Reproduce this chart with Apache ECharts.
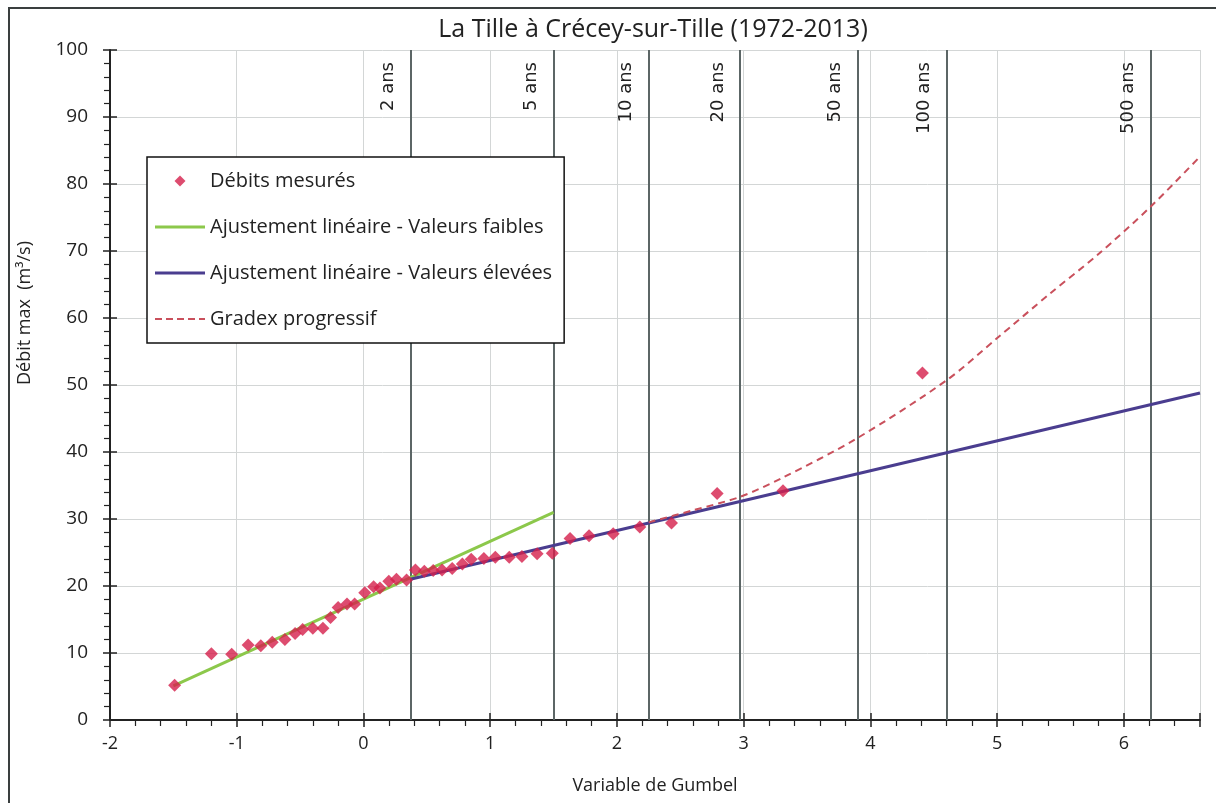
<!DOCTYPE html>
<html>
<head>
<meta charset="utf-8">
<script src="https://cdn.jsdelivr.net/npm/echarts@6/dist/echarts.min.js"></script>
<style>
  html, body { margin: 0; padding: 0; background: #fff; }
  #chart { width: 1216px; height: 803px; position: absolute; left: 0; top: 0; }
  #frame { position: absolute; left: 8px; top: 7px; width: 1220px; height: 800px;
           border-left: 2px solid #3a3f3f; border-top: 2px solid #3a3f3f; pointer-events: none; }
</style>
</head>
<body>
<div id="chart"></div>
<div id="frame"></div>
<script>
// Measured annual maximum flows (Gumbel reduced variable, flow m3/s)
const gumbelX = [-1.49,-1.20,-1.04,-0.91,-0.81,-0.72,-0.62,-0.54,-0.48,-0.40,-0.32,-0.26,-0.20,-0.13,-0.07,0.01,0.08,0.13,0.20,0.26,0.34,0.41,0.48,0.55,0.62,0.70,0.78,0.85,0.95,1.04,1.15,1.25,1.37,1.49,1.63,1.78,1.97,2.18,2.43,2.79,3.31,4.41];
const debitMesure = [5.2,9.9,9.8,11.2,11.1,11.6,12.0,12.9,13.5,13.7,13.7,15.3,16.8,17.3,17.3,19.0,19.9,19.7,20.7,21.0,20.9,22.4,22.2,22.3,22.4,22.6,23.3,24.0,24.1,24.3,24.3,24.4,24.8,24.9,27.1,27.5,27.8,28.8,29.4,33.8,34.2,51.8];

// Linear fit - low values
const faiblesX = [-1.5, 1.5];
const faiblesY = [5.1, 31.0];

// Linear fit - high values
const eleveesX = [0.37, 6.6];
const eleveesY = [21.0, 48.8];

// Progressive gradex
const gradexX = [2.25, 2.6, 2.97, 3.3, 3.89, 4.6, 5.0, 5.42, 5.79, 6.21, 6.6];
const gradexY = [29.5, 31.3, 33.3, 36.1, 42.0, 50.7, 57.0, 63.7, 69.4, 76.6, 84.1];

// Return periods
const returnX = [0.37, 1.50, 2.25, 2.97, 3.90, 4.60, 6.21];
const returnLabels = ['2 ans', '5 ans', '10 ans', '20 ans', '50 ans', '100 ans', '500 ans'];

const seriesNames = ['Débits mesurés', 'Ajustement linéaire - Valeurs faibles', 'Ajustement linéaire - Valeurs élevées', 'Gradex progressif'];

const zip = (a, b) => a.map((v, i) => [v, b[i]]);

const FONT = 'Open Sans';
const ICON_DIAMOND = 'path://M0,-10L10,0L0,10L-10,0Z';
const ICON_SOLID = 'path://M0,0h50v3.2h-50z';
const ICON_DASH = 'path://M0,0h7v2.2h-7zM11,0h7v2.2h-7zM22,0h7v2.2h-7zM33,0h7v2.2h-7zM44,0h6v2.2h-6z';

const chart = echarts.init(document.getElementById('chart'), null, { renderer: 'canvas' });

const option = {
  backgroundColor: '#fff',
  animation: false,
  title: {
    text: 'La Tille à Crécey-sur-Tille (1972-2013)',
    left: 648, top: 12, textAlign: 'center',
    textStyle: { fontFamily: FONT, fontSize: 25, fontWeight: 'normal', color: '#222' }
  },
  grid: { left: 110, right: 16, top: 50, bottom: 83, containLabel: false },
  legend: {
    data: [
      { name: seriesNames[0], icon: ICON_DIAMOND, itemStyle: { color: '#d41f4b' } },
      { name: seriesNames[1], icon: ICON_SOLID },
      { name: seriesNames[2], icon: ICON_SOLID },
      { name: seriesNames[3], icon: ICON_DASH }
    ],
    z: 20,
    orient: 'vertical',
    left: 147, top: 157,
    padding: [14, 12, 14, 8],
    itemGap: 26,
    itemWidth: 50, itemHeight: 11,
    symbolKeepAspect: true,
    backgroundColor: '#fff',
    borderColor: '#111', borderWidth: 1.5, borderRadius: 0,
    textStyle: { fontFamily: FONT, fontSize: 20, color: '#222' }
  },
  xAxis: [{
    type: 'value', min: -2, max: 6.6, interval: 1,
    name: 'Variable de Gumbel', nameLocation: 'middle', nameGap: 57,
    nameTextStyle: { fontFamily: FONT, fontSize: 18, color: '#222' },
    axisLine: { onZero: false, lineStyle: { color: '#222', width: 2 } },
    axisTick: { show: true, inside: false, length: 7, lineStyle: { color: '#222', width: 1.5 } },
    minorTick: { show: true, splitNumber: 5, length: 6, lineStyle: { color: '#222', width: 1.2 } },
    axisLabel: { fontFamily: FONT, fontSize: 18, color: '#222', margin: 15,
      formatter: v => (Math.abs(v - Math.round(v)) < 1e-9 ? String(Math.round(v)) : ''), showMaxLabel: false },
    splitLine: { show: true, lineStyle: { color: '#d3d6d6', width: 1 } }
  }, {
    type: 'value', min: -2, max: 6.6, interval: 1, position: 'bottom',
    axisLine: { show: false, onZero: false },
    axisTick: { show: true, inside: true, length: 7, lineStyle: { color: '#222', width: 1.5 } },
    axisLabel: { show: false }, splitLine: { show: false }
  }],
  yAxis: [{
    type: 'value', min: 0, max: 100, interval: 10,
    name: 'Débit max  (m³/s)', nameLocation: 'middle', nameGap: 76,
    nameTextStyle: { fontFamily: FONT, fontSize: 18, color: '#222', padding: [0, 0, 0, 144] },
    axisLine: { show: true, onZero: false, lineStyle: { color: '#222', width: 2 } },
    axisTick: { show: true, inside: false, length: 7, lineStyle: { color: '#222', width: 1.5 } },
    minorTick: { show: true, splitNumber: 5, length: 6, lineStyle: { color: '#222', width: 1.2 } },
    axisLabel: { fontFamily: FONT, fontSize: 19, color: '#222', margin: 22 },
    splitLine: { show: true, lineStyle: { color: '#d3d6d6', width: 1 } }
  }, {
    type: 'value', min: 0, max: 100, interval: 10, position: 'left',
    axisLine: { show: false, onZero: false },
    axisTick: { show: true, inside: true, length: 7, lineStyle: { color: '#222', width: 1.5 } },
    axisLabel: { show: false }, splitLine: { show: false }
  }],
  series: [
    {
      name: 'périodes de retour', type: 'line', data: [], z: 1, silent: true,
      markLine: {
        silent: true, symbol: ['none', 'none'], animation: false, z: 2,
        lineStyle: { color: '#5c6666', width: 2, type: 'solid' },
        label: { show: true, position: 'insideEndTop', distance: [12, 13],
          fontFamily: 'DejaVu Sans', fontSize: 18, color: '#222' },
        data: returnX.map((x, i) => ({ xAxis: x, label: { formatter: returnLabels[i] } }))
      }
    },
    {
      name: seriesNames[1], type: 'line', data: zip(faiblesX, faiblesY), z: 3,
      symbol: 'none', lineStyle: { color: '#8cc84b', width: 3 }, itemStyle: { color: '#8cc84b' }
    },
    {
      name: seriesNames[2], type: 'line', data: zip(eleveesX, eleveesY), z: 3,
      symbol: 'none', lineStyle: { color: '#4a3d8f', width: 3 }, itemStyle: { color: '#4a3d8f' }
    },
    {
      name: seriesNames[3], type: 'line', data: zip(gradexX, gradexY), z: 3, smooth: 0.3,
      symbol: 'none', lineStyle: { color: '#c9505c', width: 2, type: [7, 5] }, itemStyle: { color: '#c9505c' }
    },
    {
      name: seriesNames[0], type: 'scatter', data: zip(gumbelX, debitMesure), z: 5,
      symbol: 'diamond', symbolSize: 13, itemStyle: { color: '#d41f4b' }
    }
  ]
};
chart.setOption(option);
</script>
</body>
</html>
